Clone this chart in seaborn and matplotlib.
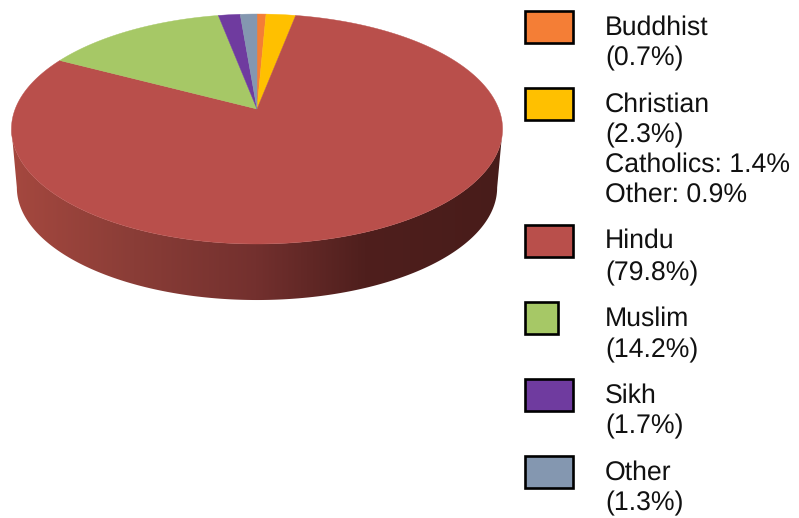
import numpy as np
import matplotlib
matplotlib.use("Agg")
import matplotlib.pyplot as plt
import seaborn as sns
from matplotlib.colors import LinearSegmentedColormap
from matplotlib.patches import Polygon, Rectangle

religions = ["Buddhist", "Christian", "Hindu", "Muslim", "Sikh", "Other"]
shares = [0.7, 2.3, 79.8, 14.2, 1.7, 1.3]
slice_colors = ["#F47E36", "#FFC000", "#B94F4B", "#A6C866", "#6F3B9F", "#8497B0"]
christian_detail = ["Catholics: 1.4%", "Other: 0.9%"]

sns.set_theme(style="white")
plt.rcParams["font.family"] = ["Liberation Sans", "DejaVu Sans"]
plt.rcParams["text.hinting"] = "no_hinting"
palette = sns.color_palette(slice_colors)

fig = plt.figure(figsize=(7.99, 5.18), dpi=100)
ax = fig.add_axes([0, 0, 1, 1])

# Tilted disc: a circle seen in perspective, so the far half looks shallower
CX, CY = 257.0, 109.0
RX, RY, TILT = 241.8, 111.5, 0.174
THICKNESS, BASE_SCALE = 59.0, 0.978


def rim(theta, scale=1.0, drop=0.0):
    """Project angles on the unit circle (radians, 0 = right, counter-clockwise)."""
    u, v = np.cos(theta), np.sin(theta)
    w = 1 + TILT * v
    return np.column_stack([CX + scale * RX * u / w, CY + drop - scale * RY * v / w])


# Side wall: from the widest point of the top rim, around the front, back along the base
widest = np.arcsin(TILT)
front = np.linspace(np.pi + widest, 2 * np.pi - widest, 300)
wall = np.vstack([rim(front), rim(front[::-1], BASE_SCALE, THICKNESS)])
wall_patch = Polygon(wall, closed=True, transform=ax.transData, facecolor="none", edgecolor="none")
ax.add_patch(wall_patch)

wall_cmap = LinearSegmentedColormap.from_list(
    "wall",
    [(0.0, "#A5483F"), (0.25, "#8A3D37"), (0.5, "#73302E"), (0.72, "#4F1F1D"), (1.0, "#481C1A")],
)
shade = ax.imshow(
    np.linspace(0, 1, 256).reshape(1, -1),
    cmap=wall_cmap,
    extent=[11, 502, 320, 100],
    aspect="auto",
    interpolation="bilinear",
)
shade.set_clip_path(wall_patch)

# Top face: slices run clockwise from twelve o'clock in the order of the data
edges = np.cumsum([0.0] + shares) / sum(shares)
for start, stop, color in zip(edges[:-1], edges[1:], palette):
    count = max(int((stop - start) * 720), 4)
    theta = np.pi / 2 - 2 * np.pi * np.linspace(start, stop, count)
    outline = np.vstack([[CX, CY], rim(theta)])
    ax.add_patch(Polygon(outline, closed=True, facecolor=color, edgecolor=color, linewidth=0.3))

# Key on the right: swatch beside the name, share and any breakdown
swatch_rows = [(11.0, 32.0), (88.0, 32.0), (225.0, 32.0), (302.0, 32.0), (379.0, 32.0), (456.0, 32.0)]
swatch_widths = [48, 48, 48, 33, 48, 48]
baselines = [
    [34.5, 65.0],
    [111.5, 142.0, 172.0, 202.0],
    [248.0, 280.0],
    [326.0, 357.0],
    [403.0, 433.5],
    [479.5, 510.5],
]
for i, (name, share, color) in enumerate(zip(religions, shares, palette)):
    top, height = swatch_rows[i]
    ax.add_patch(Rectangle((525, top), swatch_widths[i], height,
                           facecolor=color, edgecolor="black", linewidth=1.9))
    lines = [name, f"({share}%)"]
    if name == "Christian":
        lines += christian_detail
    for line, y in zip(lines, baselines[i]):
        ax.text(605, y, line, fontsize=19.2, color="#111111", ha="left", va="baseline")

ax.set_xlim(0, 799)
ax.set_ylim(518, 0)
ax.axis("off")

fig.savefig("out.png", dpi=100, facecolor="white")
